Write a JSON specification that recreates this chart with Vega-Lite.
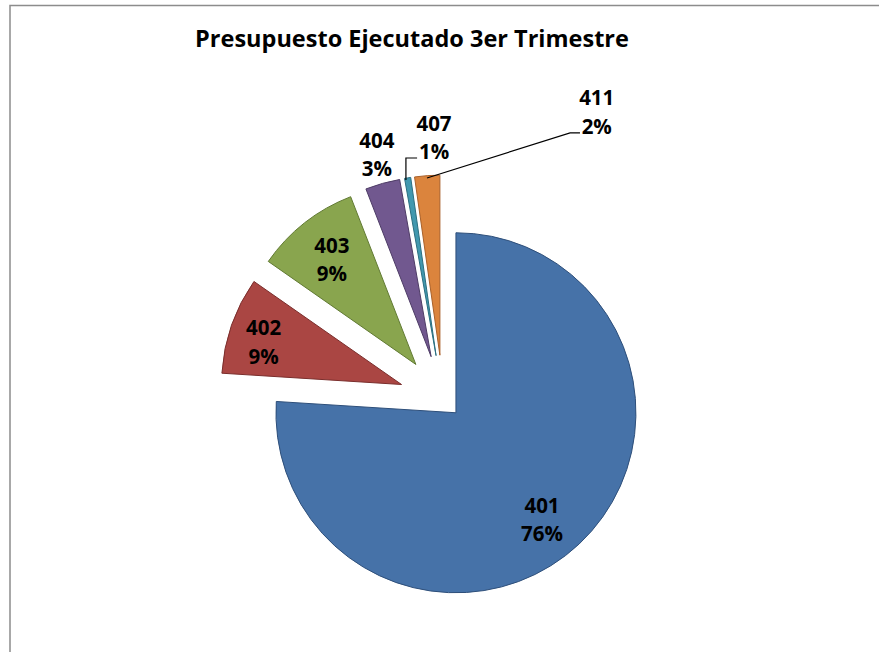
{
  "$schema": "https://vega.github.io/schema/vega-lite/v6.json",
  "width": 870,
  "height": 648,
  "autosize": {"type": "none"},
  "padding": {"left": 10, "top": 5.5, "right": 0, "bottom": 0},
  "background": "white",
  "config": {"view": {"stroke": "#8c8c8c", "strokeWidth": 1.5}},
  "title": {
    "text": "Presupuesto Ejecutado 3er Trimestre",
    "orient": "top",
    "frame": "group",
    "anchor": "middle",
    "dx": -33,
    "offset": -65,
    "baseline": "alphabetic",
    "font": "Open Sans",
    "fontSize": 23.5,
    "fontWeight": "bold",
    "color": "#000000"
  },
  "datasets": {
    "slices": [
      {"k": 1, "code": "401", "value": 76.0, "explode": 10.5, "lx": 55.0, "ly": -63.2},
      {"k": 2, "code": "402", "value": 8.7, "explode": 24.4, "lx": -99.7, "ly": 35.4},
      {"k": 3, "code": "403", "value": 9.4, "explode": 24.4, "lx": -61.7, "ly": 81.3},
      {"k": 4, "code": "404", "value": 3.1, "explode": 24.4, "lx": -36.7, "ly": 139.6},
      {"k": 5, "code": "407", "value": 0.55, "explode": 24.4, "lx": -5.0, "ly": 149.1},
      {"k": 6, "code": "411", "value": 2.25, "explode": 24.4, "lx": 85.4, "ly": 163.1}
    ],
    "leaders": [
      {"lead": "407", "i": 1, "px": -20.6, "py": 121.7},
      {"lead": "407", "i": 2, "px": -20.6, "py": 133.9},
      {"lead": "407", "i": 3, "px": -14.4, "py": 133.9},
      {"lead": "411", "i": 1, "px": -8.9, "py": 122.8},
      {"lead": "411", "i": 2, "px": 70.6, "py": 147.8},
      {"lead": "411", "i": 3, "px": 76.1, "py": 147.8}
    ]
  },
  "layer": [
    {
      "data": {"name": "slices"},
      "transform": [
        {"window": [{"op": "sum", "field": "value", "as": "cum"}], "sort": [{"field": "k"}], "frame": [null, 0]},
        {"joinaggregate": [{"op": "sum", "field": "value", "as": "total"}]},
        {"calculate": "(datum.cum - datum.value) / datum.total", "as": "start"},
        {"calculate": "datum.cum / datum.total", "as": "end"},
        {"calculate": "PI * (datum.start + datum.end)", "as": "mid"},
        {"calculate": "datum.explode * sin(datum.mid)", "as": "ox"},
        {"calculate": "datum.explode * cos(datum.mid)", "as": "oy"}
      ],
      "mark": {"type": "arc", "radius": 180, "strokeWidth": 1, "strokeJoin": "round"},
      "encoding": {
        "x": {"field": "ox", "type": "quantitative", "scale": {"domain": [-240.56, 242.78], "nice": false, "zero": false}, "axis": null},
        "y": {"field": "oy", "type": "quantitative", "scale": {"domain": [-141.39, 218.61], "nice": false, "zero": false}, "axis": null},
        "theta": {"field": "start", "type": "quantitative", "scale": {"domain": [0, 1]}},
        "theta2": {"field": "end"},
        "color": {
          "field": "code", "type": "nominal",
          "scale": {"domain": ["401", "402", "403", "404", "407", "411"], "range": ["#4672A8", "#AA4643", "#89A54E", "#71588F", "#4198AF", "#DB843D"]},
          "legend": null
        },
        "stroke": {
          "field": "code", "type": "nominal",
          "scale": {"domain": ["401", "402", "403", "404", "407", "411"], "range": ["#2E4F7A", "#7A2E2C", "#617A33", "#4E3C66", "#2B6F80", "#A8602A"]},
          "legend": null
        }
      }
    },
    {
      "data": {"name": "leaders"},
      "mark": {"type": "line", "color": "#000000", "strokeWidth": 1.2},
      "encoding": {
        "x": {"field": "px", "type": "quantitative", "scale": {"domain": [-240.56, 242.78], "nice": false, "zero": false}, "axis": null},
        "y": {"field": "py", "type": "quantitative", "scale": {"domain": [-141.39, 218.61], "nice": false, "zero": false}, "axis": null},
        "detail": {"field": "lead", "type": "nominal"},
        "order": {"field": "i", "type": "quantitative"}
      }
    },
    {
      "data": {"name": "slices"},
      "transform": [
        {"joinaggregate": [{"op": "sum", "field": "value", "as": "total"}]},
        {"calculate": "datum.code + '\\n' + format(datum.value / datum.total, '.0%')", "as": "label"}
      ],
      "mark": {"type": "text", "font": "Open Sans", "fontSize": 20.5, "fontWeight": "bold", "color": "#000000", "align": "center", "baseline": "alphabetic", "lineBreak": "\n", "lineHeight": 28.5},
      "encoding": {
        "x": {"field": "lx", "type": "quantitative", "scale": {"domain": [-240.56, 242.78], "nice": false, "zero": false}, "axis": null},
        "y": {"field": "ly", "type": "quantitative", "scale": {"domain": [-141.39, 218.61], "nice": false, "zero": false}, "axis": null},
        "text": {"field": "label", "type": "nominal"}
      }
    }
  ]
}
